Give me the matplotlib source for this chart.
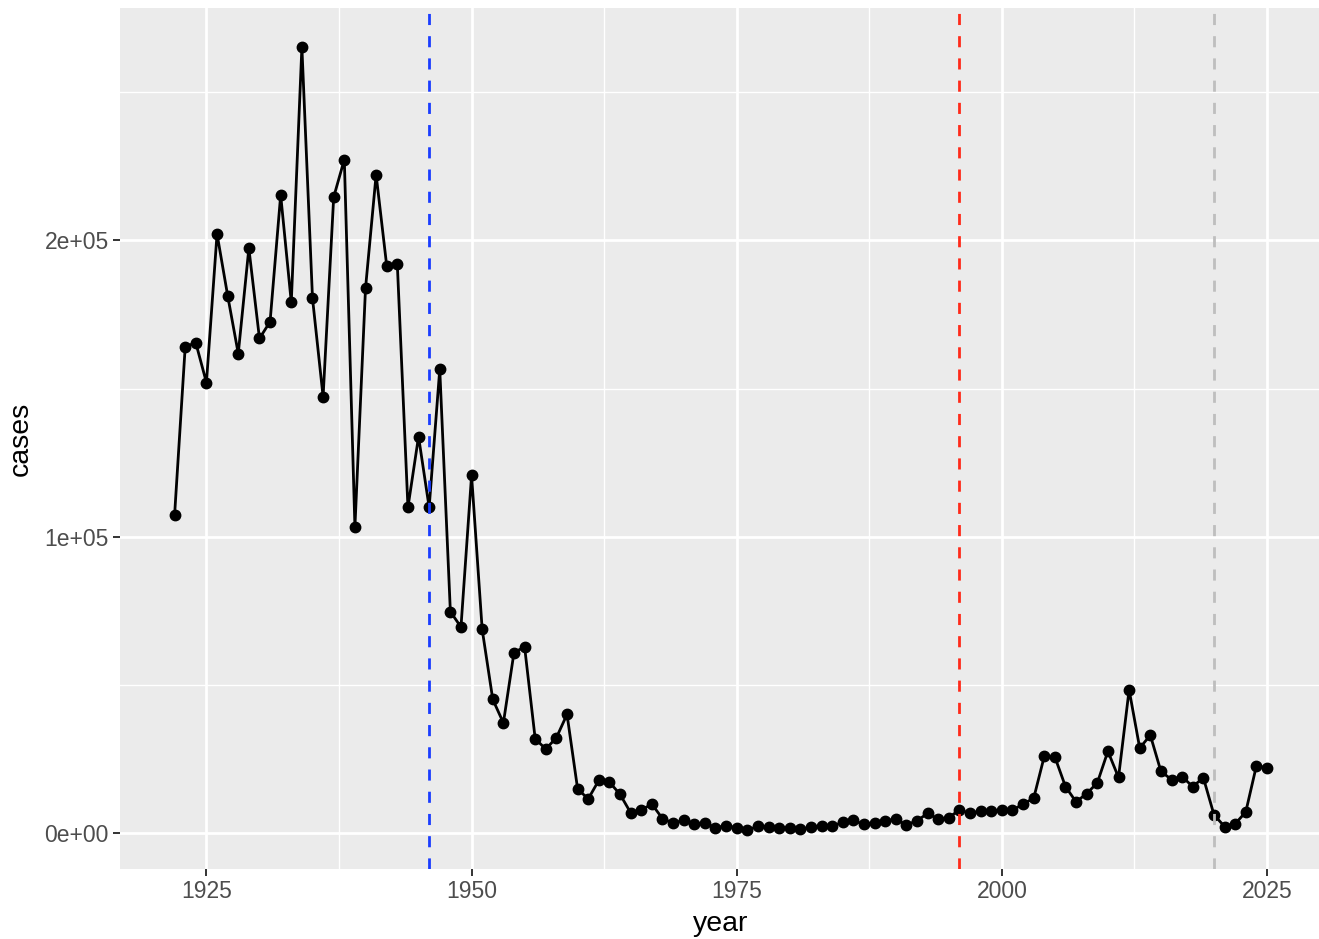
import numpy as np
import matplotlib
matplotlib.use("Agg")
import matplotlib.pyplot as plt
from matplotlib.ticker import FixedLocator

# US pertussis cases by year
years = list(range(1922, 2026))
cases = [
    107473, 164191, 165418, 152003, 202210, 181411, 161799, 197371, 166914, 172559,
    215343, 179135, 265269, 180518, 147237, 214652, 227319, 103188, 183866, 222202,
    191383, 191890, 109873, 133792, 109860, 156517, 74715, 69479, 120718, 68687,
    45030, 37129, 60886, 62786, 31732, 28295, 32148, 40005, 14809, 11468,
    17749, 17135, 13005, 6799, 7717, 9718, 4810, 3285, 4249, 3036,
    3287, 1759, 2402, 1738, 1010, 2177, 2063, 1623, 1730, 1248,
    1895, 2463, 2276, 3589, 4195, 2823, 3450, 4157, 4570, 2719,
    4083, 6586, 4617, 5137, 7796, 6564, 7405, 7298, 7867, 7580,
    9771, 11647, 25827, 25616, 15632, 10454, 13278, 16858, 27550, 18719,
    48277, 28639, 32971, 20762, 17972, 18975, 15609, 18617, 6124, 2116,
    3044, 7063, 22600, 22000,
]

# vaccine milestones
vline_years = [1946, 1996, 2020]
vline_colors = ["#1a3cff", "#ff2a1a", "#bebebe"]

x_major = [1925, 1950, 1975, 2000, 2025]
x_minor = [1937.5, 1962.5, 1987.5, 2012.5]
y_major = [0, 100000, 200000]
y_minor = [50000, 150000, 250000]
y_labels = ["0e+00", "1e+05", "2e+05"]

plt.rcParams["font.family"] = ["Liberation Sans", "DejaVu Sans"]

fig = plt.figure(figsize=(13.19, 9.39), dpi=100)
# panel runs slightly past the right edge of the picture, as in the reference
ax = fig.add_axes([120 / 1319, 70 / 939, (1321.6 - 120) / 1319, (931 - 70) / 939])
ax.set_facecolor("#EBEBEB")

x0, x1 = min(years), max(years)
xr = x1 - x0
ax.set_xlim(x0 - 0.05 * xr, x1 + 0.05 * xr)
y0, y1 = min(cases), max(cases)
yr = y1 - y0
ax.set_ylim(y0 - 0.05 * yr, y1 + 0.05 * yr)

ax.xaxis.set_major_locator(FixedLocator(x_major))
ax.xaxis.set_minor_locator(FixedLocator(x_minor))
ax.yaxis.set_major_locator(FixedLocator(y_major))
ax.yaxis.set_minor_locator(FixedLocator(y_minor))
ax.set_yticklabels(y_labels)

ax.grid(which="major", color="white", linewidth=2.0)
ax.grid(which="minor", color="white", linewidth=1.0)
ax.set_axisbelow(True)
for s in ax.spines.values():
    s.set_visible(False)

ax.tick_params(which="major", length=5, width=1.4, color="#333333",
               labelcolor="#4D4D4D", labelsize=16.5, pad=3)
ax.tick_params(which="minor", length=0)

ax.plot(years, cases, color="black", linewidth=2.0, zorder=3)
ax.plot(years, cases, "o", color="black", markersize=7.5, zorder=4)

for yv, c in zip(vline_years, vline_colors):
    ax.axvline(yv, color=c, linewidth=2.0, linestyle=(0, (4, 4)), zorder=5)

ax.set_xlabel("year", fontsize=20.5, labelpad=6)
ax.set_ylabel("cases", fontsize=20.5, labelpad=8)

fig.savefig("out.png", dpi=100)
